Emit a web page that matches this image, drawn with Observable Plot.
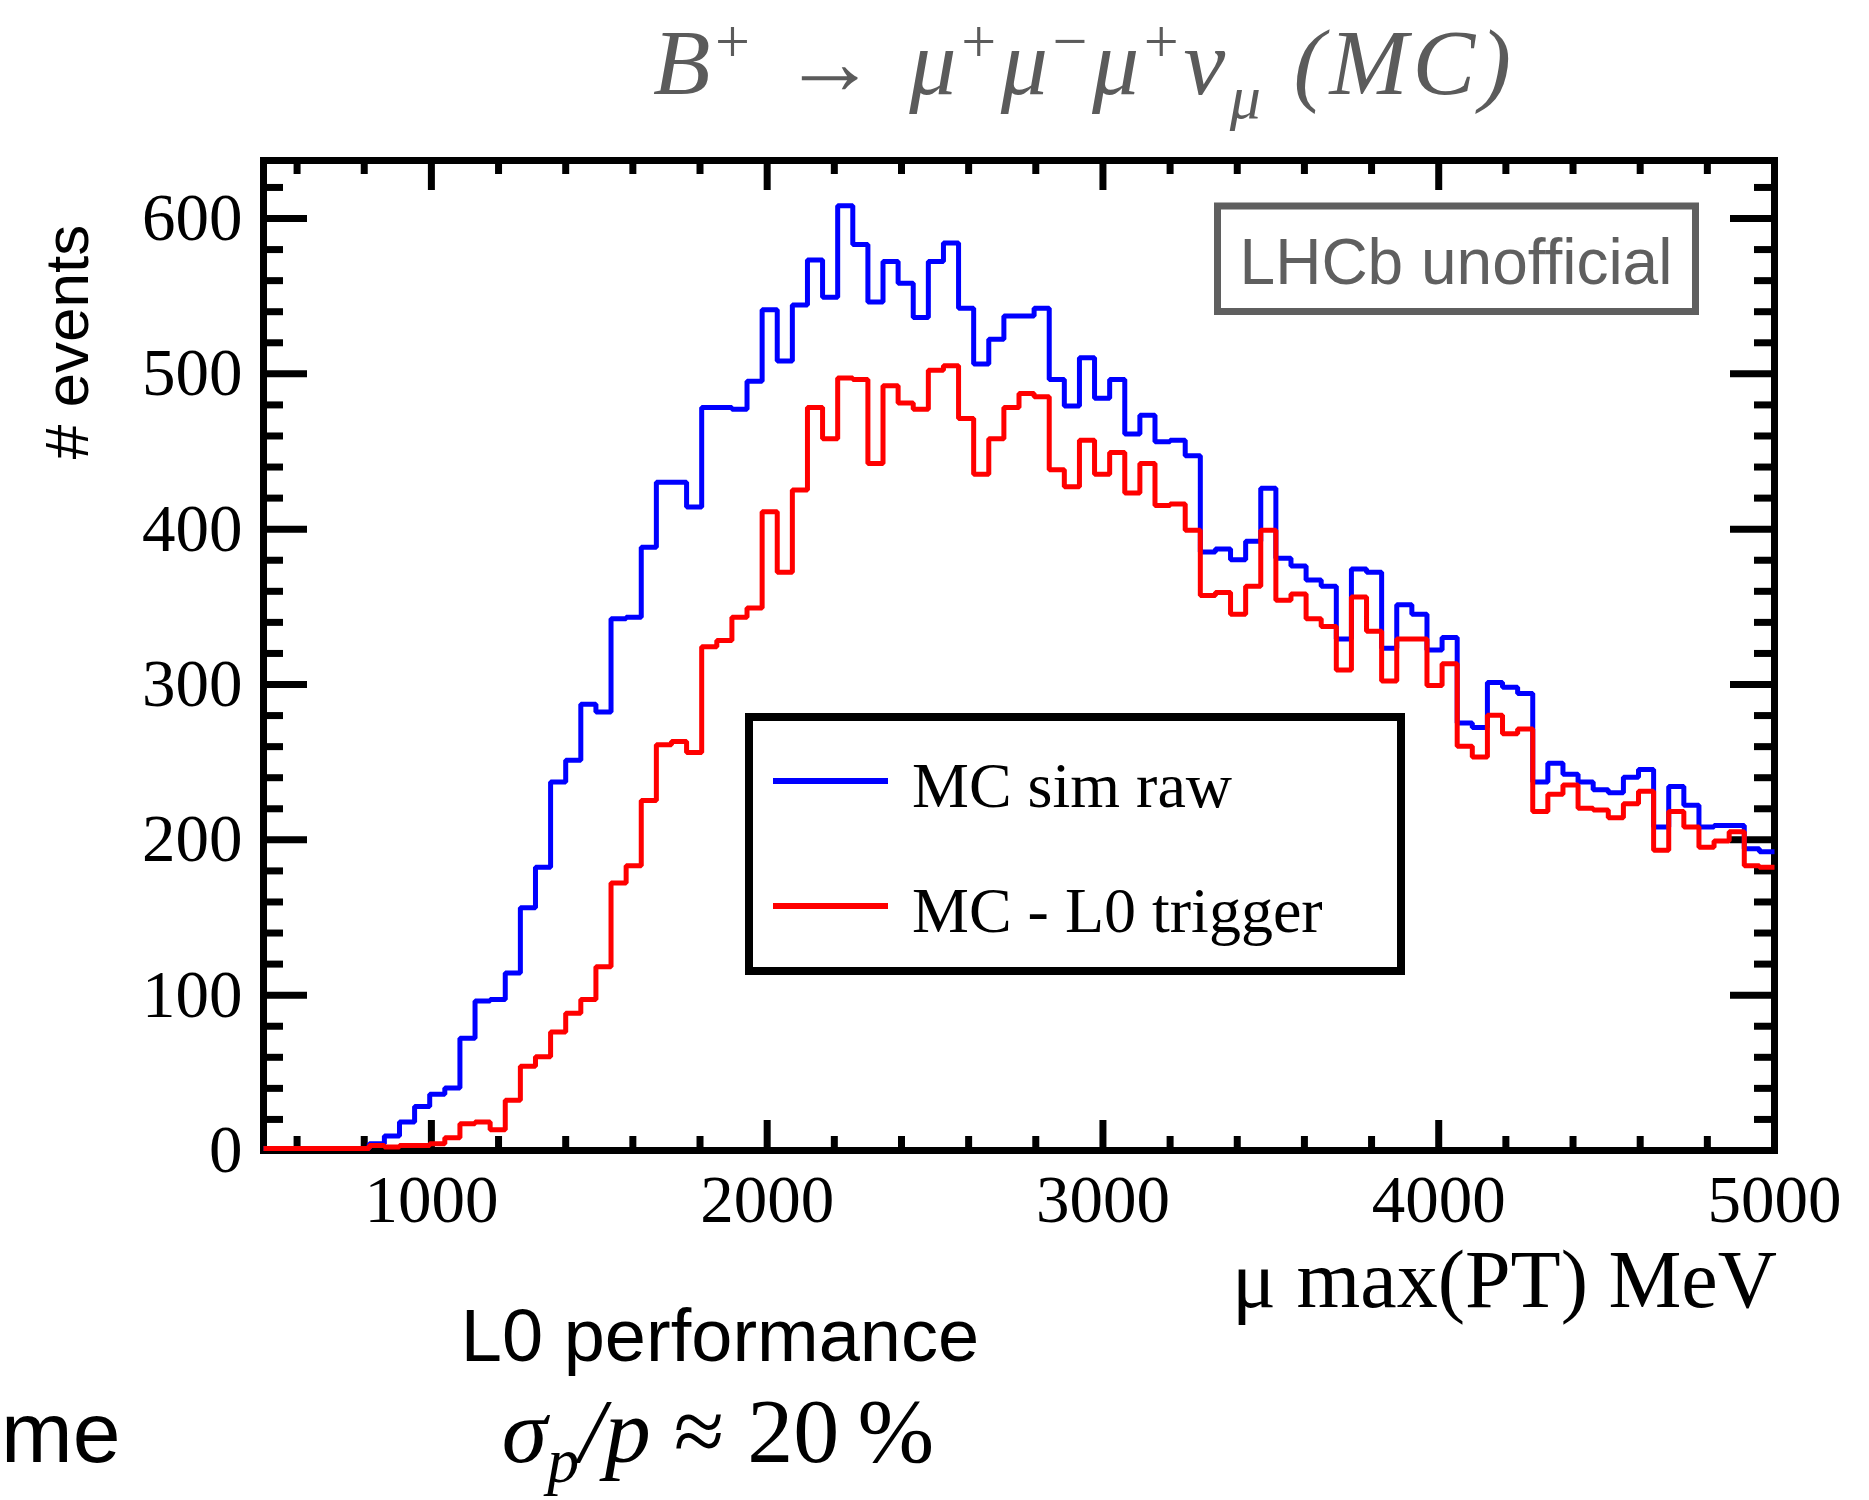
<!DOCTYPE html>
<html><head><meta charset="utf-8">
<script src="https://cdn.jsdelivr.net/npm/d3@7"></script>
<script src="https://cdn.jsdelivr.net/npm/@observablehq/plot@0.6"></script>
<style>
html,body{margin:0;padding:0;background:#fff;}
#chart{position:relative;width:1869px;height:1500px;overflow:hidden;}
</style>
</head><body><div id="chart"></div>
<script>
// ---- data ----
const binStart = 500;      // MeV, lower edge of first bin
const binWidth = 45;       // MeV
const rawCounts = [0,0,0,0,0,0,0,3,8,17,27,35,39,71,95,96,113,155,181,236,250,286,281,341,342,387,429,429,413,477,477,476,494,540,
  507,543,572,548,607,582,545,571,557,535,571,583,541,505,521,536,536,541,495,478,509,483,495,460,472,455,456,446,384,386,379,391,425,
  380,375,366,362,328,373,371,322,350,344,321,329,274,271,300,297,293,236,248,241,236,231,229,239,244,207,233,221,207,208,208,193,191];
const l0Counts = [0,0,0,0,0,0,0,2,1,2,2,3,7,16,17,12,31,53,59,75,87,96,117,171,182,224,260,262,255,323,327,342,348,410,
  371,424,477,457,496,495,441,491,480,476,501,504,470,434,457,477,486,484,437,426,456,434,448,422,441,414,415,398,356,358,344,362,398,
  353,357,341,336,308,355,333,301,328,328,298,312,259,252,279,267,270,217,228,234,219,218,213,222,230,192,217,207,194,198,204,182,181];
const seriesNames = ["MC sim raw", "MC - L0 trigger"];
const seriesColors = ["#0000ff", "#ff0000"];
const xMajorTicks = [1000, 2000, 3000, 4000, 5000];
const xMinorTicks = [600, 800, 1200, 1400, 1600, 1800, 2200, 2400, 2600, 2800, 3200, 3400, 3600, 3800, 4200, 4400, 4600, 4800];
const yMajorTicks = [0, 100, 200, 300, 400, 500, 600];
const yMinorTicks = [20, 40, 60, 80, 120, 140, 160, 180, 220, 240, 260, 280, 320, 340, 360, 380, 420, 440, 460, 480, 520, 540, 560, 580, 620];
const xDomain = [500, 5000];
const yDomain = [0, 637.35];

// histogram outline points (bin lower edges + closing upper edge)
function outline(counts) {
  const pts = counts.map((c, i) => ({x: binStart + binWidth * i, y: c}));
  pts.push({x: binStart + binWidth * counts.length, y: counts[counts.length - 1]});
  return pts;
}

const W = 1869, H = 1500, mL = 263, mR = 95, mT = 160, mB = 350;
const fw = W - mL - mR, fh = H - mT - mB;
const SERIF = "'Liberation Serif','Times New Roman',serif";
const SANS = "'Liberation Sans',Arial,Helvetica,sans-serif";

const plot = Plot.plot({
  width: W, height: H,
  marginLeft: mL, marginRight: mR, marginTop: mT, marginBottom: mB,
  style: {fontFamily: SERIF, background: "transparent", color: "black", overflow: "visible"},
  x: {domain: xDomain},
  y: {domain: yDomain},
  marks: [
    // inward ticks, bottom & top
    Plot.tickX(xMajorTicks, {x: d => d, insetTop: fh - 30, stroke: "black", strokeWidth: 7}),
    Plot.tickX(xMinorTicks, {x: d => d, insetTop: fh - 14, stroke: "black", strokeWidth: 7}),
    Plot.tickX(xMajorTicks, {x: d => d, insetBottom: fh - 30, stroke: "black", strokeWidth: 7}),
    Plot.tickX(xMinorTicks, {x: d => d, insetBottom: fh - 14, stroke: "black", strokeWidth: 7}),
    // inward ticks, left & right
    Plot.tickY(yMajorTicks, {y: d => d, insetRight: fw - 44, stroke: "black", strokeWidth: 7}),
    Plot.tickY(yMinorTicks, {y: d => d, insetRight: fw - 20, stroke: "black", strokeWidth: 7}),
    Plot.tickY(yMajorTicks, {y: d => d, insetLeft: fw - 44, stroke: "black", strokeWidth: 7}),
    Plot.tickY(yMinorTicks, {y: d => d, insetLeft: fw - 20, stroke: "black", strokeWidth: 7}),
    Plot.frame({stroke: "black", strokeWidth: 7}),
    Plot.line(outline(rawCounts), {x: "x", y: "y", curve: "step-after", stroke: seriesColors[0], strokeWidth: 5, strokeLinejoin: "miter", strokeLinecap: "butt", dy: -2}),
    Plot.line(outline(l0Counts), {x: "x", y: "y", curve: "step-after", stroke: seriesColors[1], strokeWidth: 5, strokeLinejoin: "miter", strokeLinecap: "butt", dy: -2}),
    Plot.axisX({ticks: xMajorTicks, tickSize: 0, tickPadding: 24, fontSize: 67, fontFamily: SERIF, label: null, tickFormat: d => String(d)}),
    Plot.axisY({ticks: yMajorTicks, tickSize: 0, tickPadding: 21, fontSize: 67, fontFamily: SERIF, label: null, tickFormat: d => String(d)})
  ]
});
document.getElementById("chart").appendChild(plot);

// ---- annotations drawn into the same SVG ----
const svg = d3.select(plot);
const g = svg.append("g").attr("text-anchor", "start");

// Title
const title = g.append("text").attr("x", 653).attr("y", 94).attr("text-anchor", "start")
  .attr("font-family", SERIF).attr("font-size", 94).attr("fill", "#5b5b5b")
  .attr("textLength", 858).attr("lengthAdjust", "spacing");
function tsp(t, opts = {}) {
  const s = title.append("tspan").text(t);
  if (opts.italic) s.attr("font-style", "italic");
  if (opts.size) s.attr("font-size", opts.size);
  if (opts.dy) s.attr("dy", opts.dy);
  return s;
}
tsp("B", {italic: true});
tsp("+", {size: 62, dy: -32});
tsp(" \u2192 ", {dy: 32});
tsp("\u03bc", {italic: true});
tsp("+", {size: 62, dy: -32});
tsp("\u03bc", {italic: true, dy: 32});
tsp("\u2212", {size: 62, dy: -32});
tsp("\u03bc", {italic: true, dy: 32});
tsp("+", {size: 62, dy: -32});
tsp("\u03bd", {italic: true, dy: 32});
tsp("\u03bc", {italic: true, size: 62, dy: 24});
tsp(" (MC)", {italic: true, dy: -24});

// y-axis title
g.append("text").attr("transform", "translate(88,342) rotate(-90)")
  .attr("text-anchor", "middle").attr("font-family", SANS).attr("font-size", 62).attr("fill", "black")
  .text("# events");

// LHCb unofficial box
g.append("rect").attr("x", 1217.5).attr("y", 206).attr("width", 478).attr("height", 105.5)
  .attr("fill", "white").attr("stroke", "#5f5f5f").attr("stroke-width", 7);
g.append("text").attr("x", 1456).attr("y", 284).attr("text-anchor", "middle")
  .attr("font-family", SANS).attr("font-size", 64).attr("fill", "#5f5f5f").text("LHCb unofficial");

// Legend
g.append("rect").attr("x", 749).attr("y", 717).attr("width", 652).attr("height", 254)
  .attr("fill", "white").attr("stroke", "black").attr("stroke-width", 8);
const legY = [781, 906];
seriesNames.forEach((name, i) => {
  g.append("line").attr("x1", 773).attr("x2", 888).attr("y1", legY[i]).attr("y2", legY[i])
    .attr("stroke", seriesColors[i]).attr("stroke-width", 6);
  g.append("text").attr("x", 912).attr("y", legY[i] + 26).attr("text-anchor", "start")
    .attr("font-family", SERIF).attr("font-size", 64).attr("fill", "black").text(name);
});

// x-axis title
g.append("text").attr("x", 1777).attr("y", 1307).attr("text-anchor", "end")
  .attr("font-family", SERIF).attr("font-size", 82).attr("fill", "black").text("\u03bc max(PT) MeV");

// slide texts below the chart
g.append("text").attr("x", 720).attr("y", 1361).attr("text-anchor", "middle")
  .attr("font-family", SANS).attr("font-size", 74).attr("fill", "black").text("L0 performance");
const sig = g.append("text").attr("x", 718).attr("y", 1462).attr("text-anchor", "middle")
  .attr("font-family", SERIF).attr("font-size", 92).attr("fill", "black");
sig.append("tspan").attr("font-style", "italic").text("\u03c3");
sig.append("tspan").attr("font-style", "italic").attr("font-size", 64).attr("dy", 20).text("p");
sig.append("tspan").attr("font-style", "italic").attr("dy", -20).text("/p");
sig.append("tspan").text(" \u2248 20\u2009%");
g.append("text").attr("x", 1).attr("y", 1462).attr("text-anchor", "start")
  .attr("font-family", SANS).attr("font-size", 86).attr("fill", "black").text("me");
</script>
</body></html>
